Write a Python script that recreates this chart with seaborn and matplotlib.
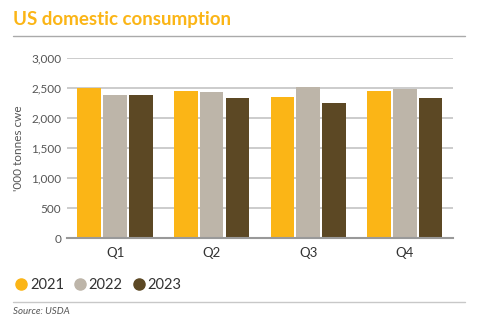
import matplotlib
matplotlib.use("Agg")
import matplotlib.pyplot as plt
import seaborn as sns
import pandas as pd
from matplotlib.lines import Line2D

quarters = ["Q1", "Q2", "Q3", "Q4"]
years = ["2021", "2022", "2023"]
v2021 = [2510, 2455, 2355, 2455]
v2022 = [2390, 2435, 2515, 2490]
v2023 = [2390, 2340, 2255, 2340]
yticks = [0, 500, 1000, 1500, 2000, 2500, 3000]
colors = ["#FBB516", "#BDB5A9", "#5C4824"]

df = pd.DataFrame({
    "quarter": quarters * 3,
    "year": [y for y in years for _ in quarters],
    "value": v2021 + v2022 + v2023,
})

sns.set_theme(style="white")
plt.rcParams['font.family'] = ['Lato', 'DejaVu Sans']

fig = plt.figure(figsize=(4.84, 3.28), dpi=100)
ax = fig.add_axes([0.138, 0.2735, 0.798, 0.5485])

sns.barplot(data=df, x="quarter", y="value", hue="year", palette=colors,
            width=0.8, gap=0.08, ax=ax, legend=False, saturation=1,
            edgecolor="none", linewidth=0)

ax.set_ylim(0, 3000)
ax.set_xlim(-0.5, 3.5)
ax.set_yticks(yticks)
ax.set_yticklabels([f"{t:,}" for t in yticks], fontsize=8.5, color="#555555")
ax.tick_params(axis="y", length=0, pad=4)
ax.tick_params(axis="x", length=0, pad=6, labelsize=9.5, labelcolor="#333333")
ax.set_xlabel("")
ax.set_ylabel("'000 tonnes cwe", fontsize=8.5, color="#555555", labelpad=5)
ax.yaxis.grid(True, color="#C8C8C8", linewidth=1.3)
ax.set_axisbelow(True)
for s in ["top", "right", "left"]:
    ax.spines[s].set_visible(False)
ax.spines["bottom"].set_color("#999999")
ax.spines["bottom"].set_linewidth(1.5)

fig.text(13/484, 1 - 20/328, "US domestic consumption", fontsize=13.5,
         color="#FBB516", fontweight="bold", va="center", ha="left")
fig.add_artist(Line2D([13/484, 465/484], [1 - 36/328, 1 - 36/328],
                      color="#AAAAAA", linewidth=1))
fig.add_artist(Line2D([13/484, 465/484], [1 - 302/328, 1 - 302/328],
                      color="#C8C8C8", linewidth=1))
fig.text(13/484, 1 - 312/328, "Source: USDA", fontsize=7, color="#555555",
         style="italic", va="center", ha="left")

handles = [Line2D([0], [0], marker="o", linestyle="none", markersize=8,
                  markerfacecolor=c, markeredgecolor=c) for c in colors]
fig.legend(handles, years, loc="center left",
           bbox_to_anchor=(8/484, 1 - 285/328), ncol=3, frameon=False,
           fontsize=10.5, handletextpad=0.1, columnspacing=0.6,
           labelcolor="#333333", borderaxespad=0, handlelength=1.0)

fig.savefig("out.png", dpi=100)
